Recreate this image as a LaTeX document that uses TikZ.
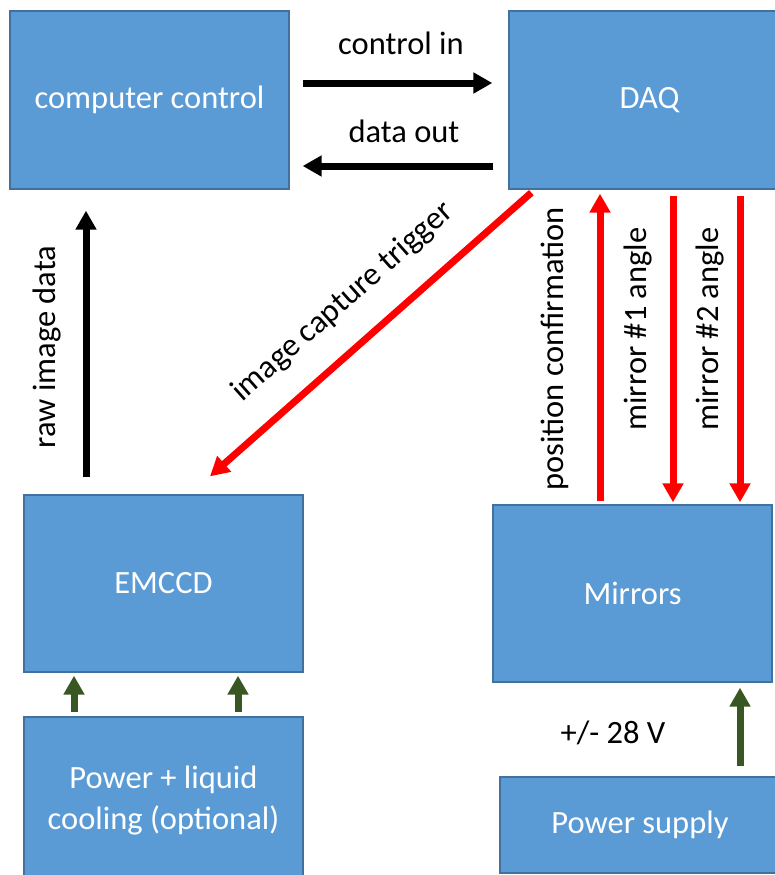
\documentclass[tikz,border=0pt]{standalone}
\usepackage{fontspec}
\setmainfont{Carlito}
\usetikzlibrary{arrows.meta}
\definecolor{boxfill}{HTML}{5B9BD5}
\definecolor{boxline}{HTML}{41719C}
\definecolor{sigred}{HTML}{FF0000}
\definecolor{pwrgreen}{HTML}{385723}
\begin{document}
\begin{tikzpicture}[x=1pt,y=-1pt,
  block/.style={draw=boxline, line width=1.3pt, fill=boxfill, text=white,
    inner sep=0pt, align=center, font=\fontsize{32.5}{41}\selectfont},
  lbl/.style={text=black, inner sep=0pt, font=\fontsize{32.5}{38}\selectfont},
  tip/.style={-{Triangle[width=20pt,length=19pt]}},
  blackarrow/.style={tip, draw=black, line width=7pt},
  redarrow/.style={tip, draw=sigred, line width=7pt},
  greenarrow/.style={tip, draw=pwrgreen, line width=7pt}]
\useasboundingbox (0,0) rectangle (775,875);
\clip (0,0) rectangle (775,875);

% blocks
\node[block, minimum width=279pt, minimum height=178pt] (cc)  at (149.5,100) {computer control};
\node[block, minimum width=281pt, minimum height=178pt] (daq) at (649.5,100) {DAQ};
\node[block, minimum width=279pt, minimum height=177pt] (em)  at (163.5,583.5) {EMCCD};
\node[block, minimum width=279pt, minimum height=177pt] (mir) at (632.5,593.5) {Mirrors};
\node[block, minimum width=279pt, minimum height=166pt] (pwr) at (163.5,800) {Power + liquid\\cooling (optional)};
\node[block, minimum width=280pt, minimum height=96pt]  (psu) at (640,825) {Power supply};

% computer <-> DAQ
\draw[blackarrow] ([xshift=13pt,yshift=17pt]cc.east) -- ([xshift=-16pt,yshift=17pt]daq.west);
\draw[blackarrow] ([xshift=-15pt,yshift=-66pt]daq.west) -- ([xshift=13pt,yshift=-66pt]cc.east);
\node[lbl] (lci) at (401,43) {control in};
\node[lbl] (ldo) at (404,131) {data out};

% EMCCD -> computer
\draw[blackarrow] ([xshift=-77.5pt,yshift=17pt]em.north) -- ([xshift=-63.5pt,yshift=-21pt]cc.south);
\node[lbl, rotate=90] (lraw) at (47,347) {raw image data};

% DAQ -> EMCCD trigger
\draw[redarrow] ([xshift=23pt,yshift=-3pt]daq.south west) -- ([xshift=46.5pt,yshift=18pt]em.north);
\node[lbl, rotate=41.5] (ltrig) at (343,302) {image capture trigger};

% DAQ <-> mirrors
\draw[redarrow] ([xshift=-32.5pt,yshift=3pt]mir.north) -- ([xshift=-49.5pt,yshift=-4pt]daq.south);
\draw[redarrow] ([xshift=23.5pt,yshift=-6pt]daq.south) -- ([xshift=40.5pt,yshift=2pt]mir.north);
\draw[redarrow] ([xshift=90.5pt,yshift=-6pt]daq.south) -- ([xshift=107.5pt,yshift=2pt]mir.north);
\node[lbl, rotate=90] (lpos) at (555,349) {position confirmation};
\node[lbl, rotate=90] (lm1) at (638,329) {mirror \#1 angle};
\node[lbl, rotate=90] (lm2) at (710,329) {mirror \#2 angle};

% power feeds
\draw[greenarrow] ([xshift=-89.5pt,yshift=4pt]pwr.north) -- ([xshift=-89.5pt,yshift=-3pt]em.south);
\draw[greenarrow] ([xshift=74.5pt,yshift=4pt]pwr.north) -- ([xshift=74.5pt,yshift=-3pt]em.south);
\draw[greenarrow] ([xshift=100pt,yshift=10pt]psu.north) -- ([xshift=107.5pt,yshift=-5pt]mir.south);
\node[lbl] (lv) at (613,733) {+/- 28 V};
\end{tikzpicture}
\end{document}
